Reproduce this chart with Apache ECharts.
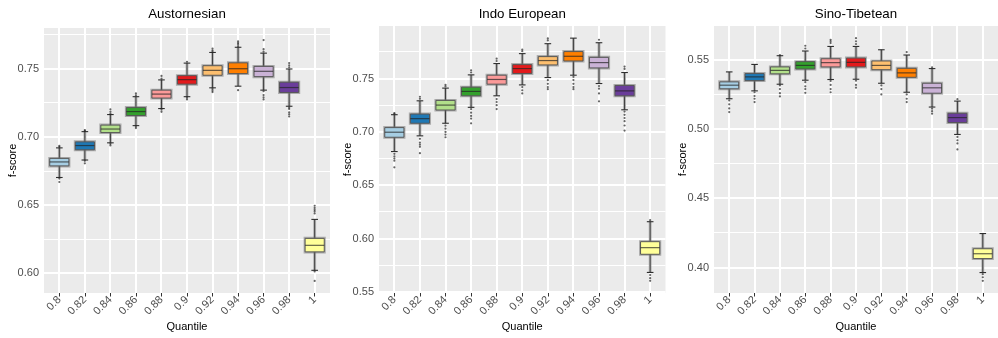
<!DOCTYPE html>
<html>
<head>
<meta charset="utf-8">
<script src="https://cdn.jsdelivr.net/npm/echarts@6/dist/echarts.min.js"></script>
<style>
  html, body { margin: 0; padding: 0; background: #ffffff; }
  #chart { width: 998px; height: 338px; }
</style>
</head>
<body>
<div id="chart"></div>
<script>
// Quantile categories shared by all three panels
const quantiles = ['0.8', '0.82', '0.84', '0.86', '0.88', '0.9', '0.92', '0.94', '0.96', '0.98', '1'];

// ColorBrewer "Paired" fill per quantile
const boxColors = ['#A6CEE3', '#1F78B4', '#B2DF8A', '#33A02C', '#FB9A99', '#E31A1C',
                   '#FDBF6F', '#FF7F00', '#CAB2D6', '#6A3D9A', '#FFFF99'];

// Austornesian: whisker ends, quartiles, medians, outliers
const austLow    = [0.6703, 0.6831, 0.6957, 0.7083, 0.7208, 0.7295, 0.7360, 0.7372, 0.7343, 0.7225, 0.6023];
const austQ1     = [0.6788, 0.6906, 0.7032, 0.7157, 0.7285, 0.7387, 0.7452, 0.7464, 0.7442, 0.7326, 0.6158];
const austMedian = [0.6817, 0.6937, 0.7058, 0.7186, 0.7314, 0.7420, 0.7488, 0.7500, 0.7481, 0.7362, 0.6206];
const austQ3     = [0.6843, 0.6964, 0.7087, 0.7215, 0.7343, 0.7449, 0.7522, 0.7543, 0.7517, 0.7401, 0.6257];
const austHigh   = [0.6920, 0.7039, 0.7164, 0.7295, 0.7418, 0.7541, 0.7619, 0.7657, 0.7614, 0.7498, 0.6396];
const austOutliers = [
  [0.6935, 0.6928, 0.6695, 0.6670],
  [0.7051, 0.7045, 0.6825, 0.6807],
  [0.7203, 0.7185, 0.7172, 0.6950, 0.6938],
  [0.7319, 0.7305, 0.7076, 0.7065],
  [0.7447, 0.7428, 0.7200, 0.7184],
  [0.7551, 0.7288, 0.7275],
  [0.7648, 0.7635, 0.7625, 0.7352, 0.7340, 0.7329],
  [0.7701, 0.7690, 0.7680, 0.7665, 0.7343],
  [0.7710, 0.7643, 0.7625, 0.7335, 0.7307, 0.7290, 0.7275],
  [0.7541, 0.7525, 0.7510, 0.7215, 0.7205, 0.7180, 0.7165, 0.7150],
  [0.6496, 0.6480, 0.6466, 0.6455, 0.6440, 0.6015, 0.5945]
];

// Indo European
const indoLow    = [0.6816, 0.6963, 0.7081, 0.7230, 0.7338, 0.7440, 0.7509, 0.7531, 0.7453, 0.7207, 0.5684];
const indoQ1     = [0.6950, 0.7081, 0.7205, 0.7338, 0.7447, 0.7547, 0.7627, 0.7664, 0.7599, 0.7338, 0.5854];
const indoMedian = [0.6997, 0.7124, 0.7251, 0.7379, 0.7491, 0.7593, 0.7668, 0.7708, 0.7649, 0.7384, 0.5916];
const indoQ3     = [0.7040, 0.7167, 0.7295, 0.7419, 0.7531, 0.7630, 0.7705, 0.7752, 0.7698, 0.7435, 0.5972];
const indoHigh   = [0.7161, 0.7291, 0.7410, 0.7534, 0.7640, 0.7733, 0.7826, 0.7878, 0.7835, 0.7556, 0.6159];
const indoOutliers = [
  [0.7177, 0.7170, 0.6795, 0.6770, 0.6750, 0.6730, 0.6668],
  [0.7329, 0.7310, 0.6935, 0.6900, 0.6880, 0.6860, 0.6801],
  [0.7440, 0.7425, 0.7058, 0.7030, 0.7000, 0.6975, 0.6950],
  [0.7577, 0.7556, 0.7214, 0.7180, 0.7150, 0.7125, 0.7080],
  [0.7686, 0.7664, 0.7307, 0.7280, 0.7250, 0.7214],
  [0.7770, 0.7755, 0.7420, 0.7390, 0.7360],
  [0.7875, 0.7857, 0.7484, 0.7450, 0.7420, 0.7400],
  [0.7515, 0.7485, 0.7450, 0.7420, 0.7400],
  [0.7863, 0.7430, 0.7405, 0.7360, 0.7286],
  [0.7612, 0.7590, 0.7190, 0.7160, 0.7130, 0.7100, 0.7060, 0.7012],
  [0.6173, 0.5660, 0.5630, 0.5605]
];

// Sino-Tibetean
const sinoLow    = [0.5220, 0.5277, 0.5325, 0.5354, 0.5359, 0.5361, 0.5332, 0.5267, 0.5160, 0.4962, 0.3964];
const sinoQ1     = [0.5292, 0.5351, 0.5400, 0.5435, 0.5450, 0.5450, 0.5430, 0.5375, 0.5260, 0.5048, 0.4065];
const sinoMedian = [0.5318, 0.5378, 0.5425, 0.5461, 0.5481, 0.5483, 0.5461, 0.5407, 0.5299, 0.5084, 0.4100];
const sinoQ3     = [0.5342, 0.5402, 0.5450, 0.5488, 0.5509, 0.5514, 0.5493, 0.5440, 0.5332, 0.5115, 0.4136];
const sinoHigh   = [0.5414, 0.5468, 0.5531, 0.5565, 0.5598, 0.5598, 0.5574, 0.5536, 0.5438, 0.5203, 0.4246];
const sinoOutliers = [
  [0.5208, 0.5180, 0.5150, 0.5124],
  [0.5267, 0.5240, 0.5220, 0.5196],
  [0.5536, 0.5316, 0.5290, 0.5260, 0.5237],
  [0.5603, 0.5583, 0.5340, 0.5310, 0.5290, 0.5263],
  [0.5646, 0.5635, 0.5622, 0.5349, 0.5320, 0.5290, 0.5267],
  [0.5658, 0.5635, 0.5615, 0.5350, 0.5320, 0.5300],
  [0.5316, 0.5290, 0.5251],
  [0.5557, 0.5251, 0.5220, 0.5196],
  [0.5447, 0.5148, 0.5130, 0.5112],
  [0.5217, 0.4944, 0.4920, 0.4897, 0.4854],
  [0.3952, 0.3930, 0.3904]
];

// Labelled y ticks per panel
const austTicks = [0.60, 0.65, 0.70, 0.75];
const indoTicks = [0.55, 0.60, 0.65, 0.70, 0.75];
const sinoTicks = [0.40, 0.45, 0.50, 0.55];

const FONT = '"Liberation Sans", Arial, sans-serif';

const panels = [
  { title: 'Austornesian',  low: austLow, q1: austQ1, median: austMedian, q3: austQ3, high: austHigh,
    outliers: austOutliers, ticks: austTicks, left: 44,  top: 28, width: 286,   height: 265 },
  { title: 'Indo European', low: indoLow, q1: indoQ1, median: indoMedian, q3: indoQ3, high: indoHigh,
    outliers: indoOutliers, ticks: indoTicks, left: 379, top: 26, width: 286.5, height: 267 },
  { title: 'Sino-Tibetean', low: sinoLow, q1: sinoQ1, median: sinoMedian, q3: sinoQ3, high: sinoHigh,
    outliers: sinoOutliers, ticks: sinoTicks, left: 714, top: 26, width: 284,   height: 267 }
];

// Box + whiskers drawn through the axis scales
function renderBox(params, api) {
  const c = api.value(0);
  const pLo  = api.coord([c, api.value(1)]);
  const pQ1  = api.coord([c, api.value(2)]);
  const pMed = api.coord([c, api.value(3)]);
  const pQ3  = api.coord([c, api.value(4)]);
  const pHi  = api.coord([c, api.value(5)]);
  const unit = api.size([1, 0])[0];
  const half = unit * 0.375;
  const cap = unit * 0.13;
  const x = pMed[0];
  const fill = boxColors[params.dataIndex];
  const boxShape = { x: x - half, y: pQ3[1], width: half * 2, height: pQ1[1] - pQ3[1] };
  return {
    type: 'group',
    children: [
      { type: 'line', shape: { x1: x, y1: pHi[1], x2: x, y2: pLo[1] },
        style: { stroke: 'rgba(95,95,95,0.45)', lineWidth: 2.8 } },
      { type: 'line', shape: { x1: x, y1: pHi[1], x2: x, y2: pLo[1] },
        style: { stroke: '#3c3c3c', lineWidth: 1 } },
      { type: 'line', shape: { x1: x - cap, y1: pHi[1], x2: x + cap, y2: pHi[1] },
        style: { stroke: '#2e2e2e', lineWidth: 1.1 } },
      { type: 'line', shape: { x1: x - cap, y1: pLo[1], x2: x + cap, y2: pLo[1] },
        style: { stroke: '#2e2e2e', lineWidth: 1.1 } },
      { type: 'rect', shape: boxShape,
        style: { fill: 'none', stroke: 'rgba(110,110,110,0.5)', lineWidth: 3 } },
      { type: 'rect', shape: boxShape,
        style: { fill: fill, stroke: '#575757', lineWidth: 1 } },
      { type: 'line', shape: { x1: x - half, y1: pMed[1], x2: x + half, y2: pMed[1] },
        style: { stroke: 'rgba(35,35,35,0.7)', lineWidth: 1.2 } }
    ]
  };
}

// Panel grid lines as pixel-snapped strips, each item [xStart, yStart, xEnd, yEnd, thickness]
function renderGridLine(params, api) {
  const a = api.coord([api.value(0), api.value(1)]);
  const b = api.coord([api.value(2), api.value(3)]);
  const w = api.value(4);
  const horizontal = Math.abs(a[1] - b[1]) < 0.5;
  const shape = horizontal
    ? { x: Math.min(a[0], b[0]), y: Math.round(a[1] - w / 2), width: Math.abs(b[0] - a[0]), height: w }
    : { x: Math.round(a[0] - w / 2), y: Math.min(a[1], b[1]), width: w, height: Math.abs(b[1] - a[1]) };
  return { type: 'rect', shape: shape, style: { fill: '#ffffff' } };
}

const grid = [], xAxis = [], yAxis = [], series = [], graphic = [];
const catIndex = quantiles.map((q, i) => i);
const xLo = -0.6, xHi = quantiles.length - 0.4;

panels.forEach((p, k) => {
  // ggplot-style 5% expansion of the value range
  let lo = Infinity, hi = -Infinity;
  p.low.forEach(v => { lo = Math.min(lo, v); });
  p.high.forEach(v => { hi = Math.max(hi, v); });
  p.outliers.forEach(list => list.forEach(v => { lo = Math.min(lo, v); hi = Math.max(hi, v); }));
  const pad = (hi - lo) * 0.05;
  const yMin = lo - pad, yMax = hi + pad;

  grid.push({ left: p.left, top: p.top, width: p.width, height: p.height,
              show: true, backgroundColor: '#EBEBEB', borderWidth: 0,
              containLabel: false, outerBoundsMode: 'none' });

  xAxis.push({
    type: 'value', gridIndex: k, min: xLo, max: xHi,
    axisLine: { show: false },
    axisTick: { show: true, length: 3.5, customValues: catIndex, lineStyle: { color: '#333333', width: 1 } },
    axisLabel: { rotate: 45, margin: 5, color: '#4D4D4D', fontSize: 11, fontFamily: FONT,
                 customValues: catIndex, formatter: v => quantiles[Math.round(v)] },
    splitLine: { show: false }
  });
  yAxis.push({
    type: 'value', gridIndex: k, min: yMin, max: yMax,
    axisLine: { show: false },
    axisTick: { show: true, length: 3.5, customValues: p.ticks, lineStyle: { color: '#333333', width: 1 } },
    axisLabel: { margin: 5, color: '#4D4D4D', fontSize: 11, fontFamily: FONT,
                 customValues: p.ticks, formatter: v => v.toFixed(2) },
    splitLine: { show: false }
  });

  // grid lines: majors at labelled ticks, minors halfway between, verticals at each quantile
  const lines = [];
  p.ticks.forEach(t => lines.push([xLo, t, xHi, t, 2]));
  p.ticks.forEach(t => {
    [t - 0.025, t + 0.025].forEach(m => {
      const v = Math.round(m * 1000) / 1000;
      if (v > yMin && v < yMax && !lines.some(l => Math.abs(l[1] - v) < 1e-6)) {
        lines.push([xLo, v, xHi, v, 1]);
      }
    });
  });
  catIndex.forEach(i => lines.push([i, yMin, i, yMax, 2]));
  series.push({
    type: 'custom', xAxisIndex: k, yAxisIndex: k, z: 1,
    data: lines, encode: { x: [0, 2], y: [1, 3] }, renderItem: renderGridLine, silent: true, clip: false
  });

  const boxData = catIndex.map(i => [i, p.low[i], p.q1[i], p.median[i], p.q3[i], p.high[i]]);
  series.push({
    type: 'custom', xAxisIndex: k, yAxisIndex: k, z: 3,
    data: boxData, encode: { x: 0, y: [1, 2, 3, 4, 5] },
    renderItem: renderBox, silent: true, clip: false
  });

  const pts = [];
  p.outliers.forEach((list, i) => list.forEach(v => pts.push([i, v])));
  series.push({
    type: 'scatter', xAxisIndex: k, yAxisIndex: k, z: 4,
    data: pts, symbol: 'circle', symbolSize: 2.2,
    itemStyle: { color: 'rgba(30,30,30,0.85)' }, silent: true
  });

  const cx = p.left + p.width / 2;
  const cy = p.top + p.height / 2;
  graphic.push({ type: 'text', x: cx, y: 14, style: { text: p.title, fill: '#000000',
    font: '13.3px ' + FONT, textAlign: 'center', textVerticalAlign: 'middle' } });
  graphic.push({ type: 'text', x: cx, y: 326.5, style: { text: 'Quantile', fill: '#000000',
    font: '11px ' + FONT, textAlign: 'center', textVerticalAlign: 'middle' } });
  graphic.push({ type: 'text', x: p.left - 31, y: cy, rotation: Math.PI / 2,
    style: { text: 'f-score', fill: '#000000',
    font: '11px ' + FONT, textAlign: 'center', textVerticalAlign: 'middle' } });
});

const chart = echarts.init(document.getElementById('chart'), null, { renderer: 'canvas' });
chart.setOption({
  backgroundColor: '#ffffff',
  animation: false,
  grid: grid,
  xAxis: xAxis,
  yAxis: yAxis,
  series: series,
  graphic: graphic
});
</script>
</body>
</html>
